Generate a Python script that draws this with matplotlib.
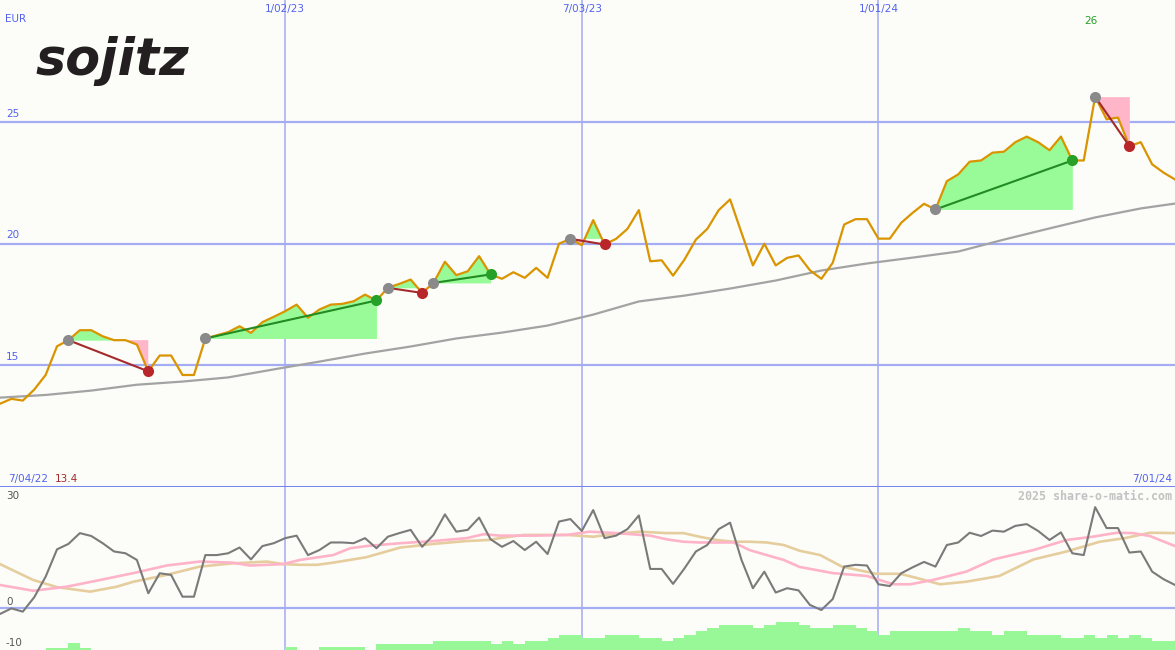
import numpy as np
import pandas as pd
import matplotlib
matplotlib.use('Agg')
import matplotlib.pyplot as plt
import matplotlib.dates as mdates

# ---------------- data ----------------
dates = pd.date_range('2022-07-11', periods=104, freq='7D')

price = [
    13.42, 13.62, 13.55, 14.00, 14.60, 15.78, 16.03, 16.44, 16.44, 16.19,
    16.03, 16.03, 15.85, 14.75, 15.40, 15.40, 14.60, 14.60, 16.10, 16.23,
    16.36, 16.60, 16.33, 16.77, 16.99, 17.22, 17.49, 16.95, 17.29, 17.49,
    17.52, 17.63, 17.90, 17.66, 18.18, 18.34, 18.52, 17.97, 18.38, 19.25,
    18.70, 18.86, 19.48, 18.73, 18.55, 18.82, 18.59, 19.00, 18.59, 19.99,
    20.19, 19.93, 20.96, 19.96, 20.19, 20.60, 21.37, 19.27, 19.31, 18.68,
    19.34, 20.16, 20.60, 21.37, 21.81, 20.44, 19.10, 19.99, 19.10, 19.41,
    19.51, 18.90, 18.55, 19.21, 20.78, 21.00, 21.00, 20.20, 20.20, 20.85,
    21.26, 21.63, 21.40, 22.56, 22.84, 23.36, 23.41, 23.73, 23.77, 24.16,
    24.39, 24.16, 23.83, 24.39, 23.41, 23.41, 26.03, 25.10, 25.17, 24.00,
    24.16, 23.25, 22.91, 22.63]

ma_weeks = [0, 4, 8, 12, 16, 20, 24, 28, 32, 36, 40, 44, 48, 52, 56, 60,
            64, 68, 72, 76, 80, 84, 88, 92, 96, 100, 103]
ma_vals = [13.67, 13.78, 13.96, 14.20, 14.33, 14.50, 14.83, 15.15, 15.48,
           15.77, 16.10, 16.34, 16.63, 17.08, 17.62, 17.86, 18.15, 18.48,
           18.89, 19.18, 19.42, 19.67, 20.16, 20.62, 21.07, 21.44, 21.64]

osc = [
    -1.75, -0.2, -1.1, 2.9, 8.6, 16.2, 17.7, 20.7, 19.9, 17.9,
    15.6, 15.1, 13.25, 4.0, 9.55, 9.1, 3.05, 3.05, 14.6, 14.6,
    15.1, 16.7, 13.4, 17.1, 17.9, 19.3, 20.0, 14.6, 16.0, 18.1,
    18.1, 17.9, 19.3, 16.5, 19.7, 20.7, 21.6, 16.9, 20.2, 25.9,
    21.1, 21.6, 25.0, 19.0, 16.9, 18.5, 16.0, 18.3, 14.9, 23.9,
    24.6, 21.3, 27.1, 19.3, 20.0, 21.8, 25.6, 10.75, 10.75, 6.6,
    10.9, 15.6, 17.4, 21.8, 23.6, 13.25, 5.4, 10.0, 4.2, 5.4,
    4.8, 0.75, -0.65, 2.4, 11.4, 11.9, 11.7, 6.5, 6.0, 9.55,
    11.2, 12.7, 11.4, 17.4, 18.1, 20.8, 19.9, 21.4, 21.1, 22.7,
    23.2, 21.3, 18.8, 20.9, 15.1, 14.6, 27.9, 22.1, 22.1, 15.3,
    15.6, 10.0, 7.9, 6.3]

pink_weeks = [0, 2.9, 5.8, 8.8, 11.7, 14.6, 17.5, 20.4, 21.9, 23.4, 24.8,
              26.3, 29.2, 30.7, 32.1, 35.1, 38.0, 40.9, 42.4, 43.8, 46.7,
              49.7, 51.7, 54.0, 57.0, 58.4, 59.9, 61.3, 64.3, 65.7, 67.2,
              68.7, 70.1, 73.0, 76.0, 78.3, 79.8, 81.8, 84.7, 87.1, 90.6,
              93.5, 95.8, 97.9, 99.3, 100.8, 103]
pink_vals = [6.3, 4.7, 5.8, 7.7, 9.6, 11.7, 12.8, 12.5, 11.7, 11.9, 12.1,
             13.25, 14.6, 16.5, 17.1, 17.9, 18.5, 19.3, 20.4, 20.0, 20.0,
             20.2, 21.1, 20.7, 20.0, 19.0, 18.3, 18.1, 18.1, 16.0, 14.6,
             13.25, 11.3, 9.6, 8.8, 6.5, 6.5, 7.7, 10.0, 13.4, 16.0,
             18.8, 19.7, 20.8, 20.7, 19.9, 17.1]

tan_weeks = [0, 2.9, 5.0, 7.9, 10.2, 11.7, 14.6, 17.5, 20.4, 23.4, 24.8,
             26.3, 27.8, 29.2, 32.1, 35.1, 38.0, 40.9, 42.9, 43.8, 45.9,
             49.7, 52.0, 54.0, 56.1, 58.4, 59.9, 61.3, 62.8, 64.3, 65.7,
             67.2, 68.7, 70.1, 71.9, 73.8, 76.8, 78.9, 80.3, 82.4, 84.7,
             87.6, 90.6, 93.5, 96.4, 98.6, 100.8, 103]
tan_vals = [12.1, 7.7, 5.7, 4.45, 5.8, 7.2, 9.1, 11.4, 12.3, 12.8, 12.1,
            11.9, 11.9, 12.5, 14.0, 16.7, 17.7, 18.5, 18.8, 19.3, 20.2,
            20.2, 19.7, 20.5, 21.1, 20.7, 20.7, 19.7, 18.8, 18.3, 18.3,
            18.1, 17.4, 15.8, 14.6, 11.4, 9.4, 9.4, 8.3, 6.5, 7.2,
            8.8, 13.4, 15.6, 18.3, 19.3, 20.8, 20.7]

vol = [
    0, 0, 0, 0, 0.64, 0.64, 1.86, 0.64, 0, 0,
    0, 0, 0, 0, 0, 0, 0, 0, 0, 0,
    0, 0, 0, 0, 0, 0.92, 0, 0, 0.92, 0.92,
    0.92, 0.92, 0, 1.75, 1.75, 1.75, 1.75, 1.75, 2.5, 2.5,
    2.5, 2.5, 2.5, 1.75, 2.5, 1.75, 2.5, 2.5, 3.4, 4.2,
    4.2, 3.4, 3.4, 4.2, 4.2, 4.2, 3.4, 3.4, 2.5, 3.4,
    4.2, 5.3, 6.2, 6.9, 6.9, 6.9, 6.2, 6.9, 7.9, 7.9,
    6.9, 6.2, 6.2, 6.9, 6.9, 6.2, 5.3, 4.2, 5.3, 5.3,
    5.3, 5.3, 5.3, 5.3, 6.2, 5.3, 5.3, 4.2, 5.3, 5.3,
    4.2, 4.2, 4.2, 3.4, 3.4, 4.2, 3.4, 4.2, 3.4, 4.2,
    3.4, 2.5, 2.5, 2.5]

# (start index, end index, direction)
signals = [(6, 13, 'down'), (18, 33, 'up'), (34, 37, 'down'), (38, 43, 'up'),
           (50, 53, 'down'), (82, 94, 'up'), (96, 99, 'down')]

grid_dates = ['2023-01-02', '2023-07-03', '2024-01-01']
grid_labels = ['1/02/23', '7/03/23', '1/01/24']
price_ticks = [15, 20, 25]
osc_ticks = [30, 0, -10]
currency = 'EUR'
start_label, end_label = '7/04/22', '7/01/24'
low_label, high_label = '13.4', '26'
logo_text = 'sojitz'
watermark = '2025 share-o-matic.com'

# ---------------- style ----------------
bg = '#fcfdf9'
grid_c = '#a4acf4'
sep_c = '#7786ee'
txt_blue = '#5262ee'
c_price = '#d99400'
c_ma = '#a3a3a3'
c_osc = '#7a7a7a'
c_pink = '#ffb3c9'
c_tan = '#e6cd9e'
c_vol = '#98f898'
fill_up = '#98fb98'
fill_dn = '#ffb6c8'

x = mdates.date2num(dates.to_pydatetime())
d0 = x[0]
wk = lambda w: d0 + np.asarray(w, dtype=float) * 7.0
price = np.asarray(price)

W, H = 1175, 650
fig = plt.figure(figsize=(W / 100, H / 100), dpi=100)
fig.patch.set_facecolor(bg)
ax1 = fig.add_axes([0, 163 / H, 1, 487 / H])
ax2 = fig.add_axes([0, 0, 1, 163 / H])
for ax in (ax1, ax2):
    ax.set_facecolor(bg)
    ax.set_xlim(x[0], x[-1])
    for s in ax.spines.values():
        s.set_visible(False)
    ax.set_xticks([])
    ax.set_yticks([])
ax1.set_ylim(10, 30)
ax2.set_ylim(-11.75, 33.5)

gx = mdates.date2num(pd.to_datetime(grid_dates).to_pydatetime())
for ax in (ax1, ax2):
    for g in gx:
        ax.axvline(g, color=grid_c, lw=1.1, zorder=1)
for t in price_ticks:
    ax1.axhline(t, color=grid_c, lw=1.6, zorder=1)
ax2.axhline(0, color=grid_c, lw=1.6, zorder=1)
ax1.axhline(10, color=sep_c, lw=2.2, zorder=6, clip_on=False)

# ---- top panel ----
ax1.plot(wk(ma_weeks), ma_vals, color=c_ma, lw=1.6, zorder=2)

for a, b, d in signals:
    xs = x[a:b + 1]
    ys = price[a:b + 1]
    lvl = price[a]
    ax1.fill_between(xs, ys, lvl, where=ys >= lvl, interpolate=True,
                     color=fill_up, lw=0, zorder=2.2)
    ax1.fill_between(xs, ys, lvl, where=ys <= lvl, interpolate=True,
                     color=fill_dn, lw=0, zorder=2.2)

ax1.plot(x, price, color=c_price, lw=1.6, zorder=3)

for a, b, d in signals:
    lc = '#228b22' if d == 'up' else '#a52a2a'
    mc = '#26a026' if d == 'up' else '#b8262a'
    ax1.plot([x[a], x[b]], [price[a], price[b]], color=lc, lw=1.5, zorder=4)
    ax1.plot(x[a], price[a], 'o', color='#8a8a8a', ms=8, mew=0, zorder=5)
    ax1.plot(x[b], price[b], 'o', color=mc, ms=8, mew=0, zorder=5)

fs = 7.5
for t in price_ticks:
    ax1.annotate(str(t), xy=(0, t), xycoords=('axes fraction', 'data'),
                 xytext=(6, 3), textcoords='offset pixels', ha='left',
                 va='bottom', color=txt_blue, fontsize=fs)
for g, lbl in zip(gx, grid_labels):
    ax1.annotate(lbl, xy=(g, 1), xycoords=('data', 'axes fraction'),
                 xytext=(0, -9), textcoords='offset pixels', ha='center',
                 va='center', color=txt_blue, fontsize=fs)
ax1.annotate(currency, xy=(0, 1), xycoords='axes fraction', xytext=(5, -19),
             textcoords='offset pixels', ha='left', va='center',
             color=txt_blue, fontsize=fs)
ax1.annotate(high_label, xy=(x[int(np.argmax(price))], 1),
             xycoords=('data', 'axes fraction'), xytext=(-4, -21),
             textcoords='offset pixels', ha='center', va='center',
             color='#22a022', fontsize=fs)
ax1.annotate(start_label, xy=(0, 0), xycoords='axes fraction',
             xytext=(8, 8), textcoords='offset pixels', ha='left',
             va='center', color=txt_blue, fontsize=fs)
ax1.annotate(low_label, xy=(0, 0), xycoords='axes fraction',
             xytext=(55, 8), textcoords='offset pixels', ha='left',
             va='center', color='#a52a2a', fontsize=fs)
ax1.annotate(end_label, xy=(1, 0), xycoords='axes fraction',
             xytext=(-3, 8), textcoords='offset pixels', ha='right',
             va='center', color=txt_blue, fontsize=fs)

fig.text(35 / W, 1 - 75 / H, logo_text, fontsize=36.5, fontweight='bold',
         fontstyle='italic', family='DejaVu Sans', color='#231f20',
         va='baseline', ha='left')

# ---- bottom panel ----
ax2.bar(x, np.asarray(vol), width=7.0, bottom=-11.75, align='edge',
        color=c_vol, lw=0, zorder=1.5)
ax2.plot(wk(tan_weeks), tan_vals, color=c_tan, lw=1.9, zorder=2)
ax2.plot(wk(pink_weeks), pink_vals, color=c_pink, lw=1.9, zorder=2.1)
ax2.plot(x, osc, color=c_osc, lw=1.5, zorder=3)

for t, off in zip(osc_ticks, [4, 6, 1]):
    ax2.annotate(str(t), xy=(0, t), xycoords=('axes fraction', 'data'),
                 xytext=(6, off), textcoords='offset pixels', ha='left',
                 va='center', color='#555555', fontsize=fs)
ax2.annotate(watermark, xy=(1, 1), xycoords='axes fraction',
             xytext=(-3, -9), textcoords='offset pixels', ha='right',
             va='center', color='#c2c2c2', fontsize=8.4,
             family='DejaVu Sans Mono', fontweight='bold')

fig.savefig('out.png', dpi=100, facecolor=bg)
